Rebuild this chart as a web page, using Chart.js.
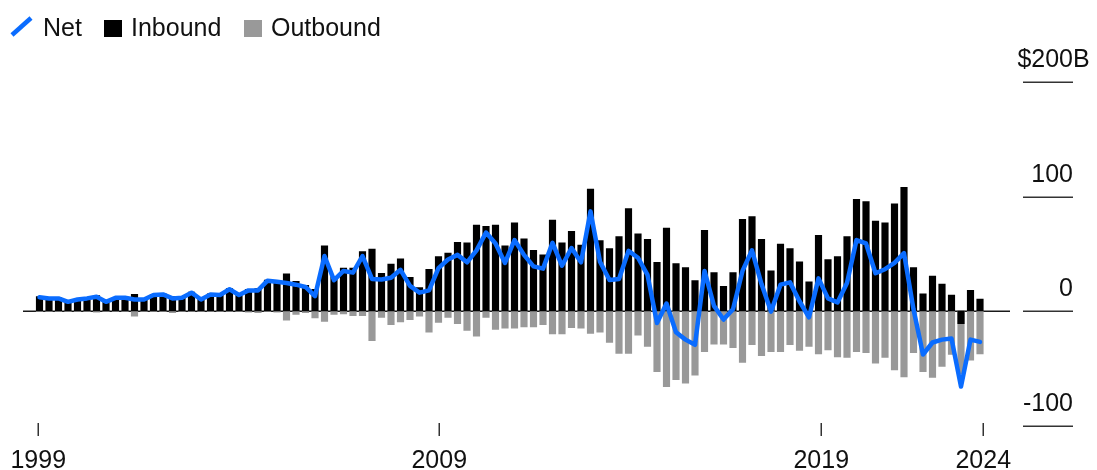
<!DOCTYPE html>
<html>
<head>
<meta charset="utf-8">
<script src="https://cdn.jsdelivr.net/npm/chart.js@4.4.1/dist/chart.umd.min.js"></script>
<style>
  html, body { margin: 0; padding: 0; background: #fff; }
  canvas { display: block; }
</style>
</head>
<body>
<canvas id="flows" width="1097" height="470"></canvas>
<script>
// Quarterly direct-investment flows, $ billions (quarter 0 = first quarter of 1999)
const netFlow = [
  12, 11, 11, 8, 10, 11, 12.5, 8, 11.5, 11.5,
  10, 10, 14, 14.5, 11, 11.5, 16, 10, 14.5, 14,
  19, 14, 18, 18, 26.5, 25.5, 24.5, 23, 21, 13,
  48, 27, 35, 33.5, 48, 28, 27.5, 29, 36, 22,
  16, 18, 37.5, 45, 49, 42.5, 53, 68.5, 59, 42,
  62, 49, 39, 37, 59.5, 39.5, 55, 42.5, 87, 43,
  27, 28, 52.5, 46.5, 31.5, -10.5, 6.5, -18.5, -25, -29.5,
  35, 4.5, -7.5, 1.5, 35, 53, 23.5, -0.5, 23, 25,
  8.5, -5.5, 28.5, 11, 7.5, 24.5, 62, 59, 33, 36.5,
  42, 50.5, 1.5, -38, -27.5, -25, -24, -66, -25, -27
];
const inbound = [
  12.5, 11.5, 11.5, 8.5, 10.5, 11.5, 13.5, 8.5, 12, 12,
  14.5, 10.5, 14.5, 15, 12.5, 12, 16.5, 10.5, 15, 14.5,
  19.5, 14.5, 19, 19.5, 27, 26.5, 32.5, 26, 22.5, 19,
  57, 30, 37.5, 37.5, 52, 54, 33, 41, 45.5, 29.5,
  20.5, 36.5, 47.5, 50.5, 60, 59.5, 75, 74, 75, 57,
  77, 63, 53, 49, 79.5, 59.5, 69.5, 57.5, 106.5, 61.5,
  54.5, 65, 89.5, 67.5, 62.5, 42.5, 72.5, 41.5, 38, 26.5,
  70.5, 33.5, 21.5, 33.5, 80, 82.5, 62.5, 35, 58.5, 54.5,
  43, 25.5, 66, 45, 47.5, 65, 97.5, 95.5, 78.5, 77,
  93.5, 108, 38, 15, 30.5, 23.5, 14, -11, 18, 10.5
];
const outbound = [
  -0.5, -0.5, -0.5, -0.5, -0.5, -0.5, -1, -0.5, -0.5, -0.5,
  -4.5, -0.5, -0.5, -0.5, -1.5, -0.5, -0.5, -0.5, -0.5, -0.5,
  -0.5, -0.5, -1, -1.5, -0.5, -1, -8, -3, -1.5, -6,
  -9, -3, -2.5, -4, -4, -26, -5.5, -12, -9.5, -7.5,
  -4.5, -18.5, -10, -5.5, -11, -17, -22, -5.5, -16, -15,
  -15, -14, -14, -12, -20, -20, -14.5, -15, -19.5, -18.5,
  -27.5, -37, -37, -21, -31, -53, -66, -60, -63, -56,
  -35.5, -29, -29, -32, -45, -29.5, -39, -35.5, -35.5, -29.5,
  -34.5, -31, -37.5, -34, -40, -40.5, -35.5, -36.5, -45.5, -40.5,
  -51.5, -57.5, -36.5, -53, -58, -48.5, -38, -55, -43, -37.5
];
const yearLabels = ['1999', '2009', '2019', '2024'];
const yearTickAt = [-0.13, 42.08, 82.29, 99.35];   // quarter positions of the year marks
const valueTicks = [200, 100, 0, -100];

const FONT = '"Liberation Sans", Arial, Helvetica, sans-serif';
const BLUE = '#0a6cff';
const GREY = '#999999';

const asPoints = arr => arr.map((v, i) => ({ x: i, y: v }));

// Zero line, value scale on the right, year marks and the legend
const decorations = {
  id: 'decorations',
  beforeDatasetsDraw(chart) {
    const { ctx, chartArea, scales: { y } } = chart;
    const y0 = Math.round(y.getPixelForValue(0)) + 0.25;
    ctx.save();
    ctx.strokeStyle = '#1a1a1a';
    ctx.lineWidth = 1.5;
    ctx.beginPath();
    ctx.moveTo(chartArea.left, y0);
    ctx.lineTo(chartArea.right, y0);
    ctx.stroke();
    ctx.restore();
  },
  afterDraw(chart) {
    const { ctx, chartArea, scales: { x, y } } = chart;
    ctx.save();

    // value scale: short rules with labels sitting above them
    const ruleStart = chartArea.right + 13;
    const ruleEnd = chartArea.right + 63;
    ctx.strokeStyle = '#333';
    ctx.lineWidth = 1.5;
    ctx.fillStyle = '#111';
    ctx.font = '25px ' + FONT;
    ctx.textBaseline = 'alphabetic';
    valueTicks.forEach((v, k) => {
      const py = Math.round(y.getPixelForValue(v)) + 0.25;
      ctx.beginPath();
      ctx.moveTo(ruleStart, py);
      ctx.lineTo(ruleEnd, py);
      ctx.stroke();
      const top = k === 0;
      ctx.textAlign = 'right';
      ctx.fillText((top ? '$' : '') + v, ruleEnd, py - 15);
      if (top) {
        ctx.textAlign = 'left';
        ctx.fillText('B', ruleEnd, py - 15);
      }
    });

    // year marks under the plot
    ctx.font = '25px ' + FONT;
    ctx.textAlign = 'center';
    yearTickAt.forEach((q, k) => {
      const px = Math.round(x.getPixelForValue(q)) + 0.25;
      ctx.beginPath();
      ctx.moveTo(px, chartArea.bottom - 2.5);
      ctx.lineTo(px, chartArea.bottom + 10.5);
      ctx.stroke();
      ctx.fillText(yearLabels[k], px, chartArea.bottom + 42.5);
    });

    // legend
    ctx.textAlign = 'left';
    ctx.font = '25px ' + FONT;
    ctx.strokeStyle = BLUE;
    ctx.lineWidth = 4.5;
    ctx.lineCap = 'butt';
    ctx.beginPath();
    ctx.moveTo(12, 35);
    ctx.lineTo(31, 18);
    ctx.stroke();
    ctx.fillStyle = '#111';
    ctx.fillText('Net', 43, 36);
    ctx.fillStyle = '#000';
    ctx.fillRect(104, 20, 18, 17);
    ctx.fillStyle = '#111';
    ctx.fillText('Inbound', 131, 36);
    ctx.fillStyle = GREY;
    ctx.fillRect(244, 20, 18, 17);
    ctx.fillStyle = '#111';
    ctx.fillText('Outbound', 271, 36);

    ctx.restore();
  }
};

new Chart(document.getElementById('flows'), {
  type: 'bar',
  data: {
    datasets: [
      {
        type: 'line',
        label: 'Net',
        data: asPoints(netFlow),
        borderColor: BLUE,
        borderWidth: 4.5,
        pointRadius: 0,
        tension: 0,
        borderJoinStyle: 'round',
        borderCapStyle: 'round',
        order: 0
      },
      {
        label: 'Inbound',
        data: asPoints(inbound),
        backgroundColor: '#000',
        barThickness: 6.5,
        grouped: false,
        order: 1
      },
      {
        label: 'Outbound',
        data: asPoints(outbound),
        backgroundColor: GREY,
        barThickness: 6.5,
        grouped: false,
        order: 2
      }
    ]
  },
  options: {
    responsive: false,
    animation: false,
    events: [],
    layout: { padding: { left: 23, right: 87, top: 82, bottom: 44.5 } },
    plugins: { legend: { display: false }, tooltip: { enabled: false } },
    scales: {
      x: { type: 'linear', min: -1.737, max: 102.158, offset: false, display: false },
      y: { type: 'linear', min: -100, max: 200, display: false }
    }
  },
  plugins: [decorations]
});
</script>
</body>
</html>
